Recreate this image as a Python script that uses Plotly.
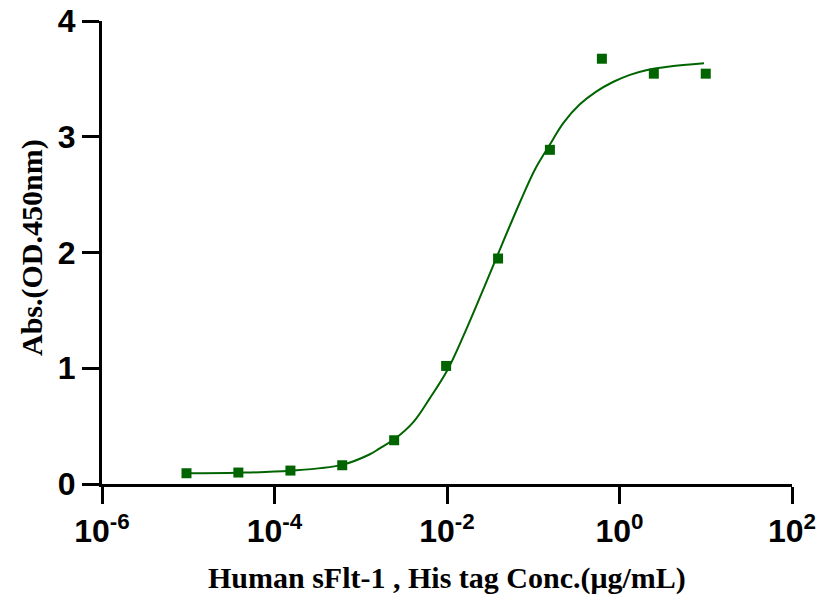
import plotly.graph_objects as go

# measured points (ug/mL, OD450)
conc = [9.54e-6, 3.81e-5, 1.53e-4, 6.10e-4, 2.44e-3, 9.77e-3, 3.91e-2, 0.156, 0.625, 2.5, 10]
od450 = [0.093, 0.099, 0.116, 0.162, 0.378, 1.02, 1.948, 2.887, 3.674, 3.545, 3.545]

# fitted curve
fit_conc = [9.55e-6, 3.72e-5, 1.51e-4, 6.03e-4, 1.26e-3, 1.66e-3, 2.51e-3, 4.07e-3,
            6.31e-3, 1.02e-2, 1.55e-2, 2.40e-2, 3.72e-2, 6.97e-2, 0.105, 0.155,
            0.224, 0.347, 0.537, 0.851, 1.32, 2.04, 3.80, 9.55]
fit_od = [0.093, 0.097, 0.114, 0.165, 0.255, 0.308, 0.393, 0.535,
          0.74, 0.99, 1.28, 1.61, 1.95, 2.43, 2.72, 2.93,
          3.12, 3.28, 3.39, 3.475, 3.535, 3.575, 3.607, 3.634]

tick_vals = [1e-6, 1e-4, 1e-2, 1, 100]
tick_text = ['10<sup>-6</sup>', '10<sup>-4</sup>', '10<sup>-2</sup>', '10<sup>0</sup>', '10<sup>2</sup>']

green = '#006400'
tick_font = dict(family='Liberation Sans', size=32, color='black', weight='bold')
title_font = dict(family='Liberation Serif', size=30, color='black', weight='bold')

fig = go.Figure()

fig.add_trace(go.Scatter(
    x=fit_conc, y=fit_od,
    mode='lines',
    line=dict(color=green, width=2, shape='spline'),
    hoverinfo='skip',
    showlegend=False
))

fig.add_trace(go.Scatter(
    x=conc, y=od450,
    mode='markers',
    marker=dict(symbol='square', size=10, color=green),
    cliponaxis=False,
    showlegend=False
))

axis_style = dict(
    showline=True,
    linecolor='black',
    linewidth=3,
    ticks='outside',
    ticklen=17,
    tickwidth=3,
    tickcolor='black',
    showgrid=False,
    zeroline=False,
    automargin=False,
    tickfont=tick_font,
)

L, R, T, B = 102, 37, 21, 123
W, H = 829, 607
w_plot = W - L - R
h_plot = H - T - B

fig.update_layout(
    width=W,
    height=H,
    margin=dict(l=L, r=R, t=T, b=B),
    plot_bgcolor='white',
    paper_bgcolor='white',
    xaxis=dict(type='log', range=[-6, 2], tickvals=tick_vals, ticktext=tick_text, **axis_style),
    yaxis=dict(range=[0, 4], tickvals=[0, 1, 2, 3, 4], **axis_style),
    annotations=[
        # title positions given in page pixels, converted to paper coords
        dict(text='Human sFlt-1 , His tag Conc.(μg/mL)', font=title_font,
             x=(447 - L) / w_plot, y=(H - B - 578) / h_plot,
             xref='paper', yref='paper', xanchor='center', yanchor='middle', showarrow=False),
        dict(text='Abs.(OD.450nm)', font=title_font, textangle=-90,
             x=(32 - L) / w_plot, y=(H - B - 248) / h_plot,
             xref='paper', yref='paper', xanchor='center', yanchor='middle', showarrow=False),
    ],
)

# drop the default page margin so the figure sits at the window's top-left
fig.write_html("out.html", config={'displayModeBar': False},
               post_script="document.body.style.margin='0';")
